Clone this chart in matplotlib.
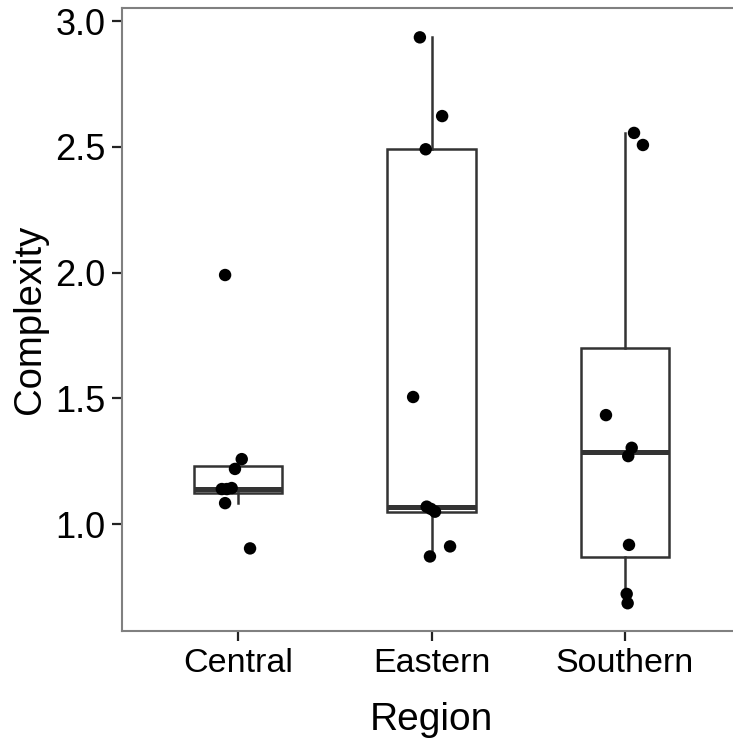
import matplotlib
matplotlib.use("Agg")
import matplotlib.pyplot as plt

plt.rcParams['font.family'] = ['Liberation Sans', 'DejaVu Sans']

# Categories and measured complexity per region
regions = ["Central", "Eastern", "Southern"]

central = [1.99, 1.258, 1.219, 1.139, 1.139, 1.143, 1.083, 0.903]
eastern = [2.935, 2.622, 2.490, 1.505, 1.069, 1.049, 1.060, 0.911, 0.871]
southern = [2.555, 2.507, 1.433, 1.303, 1.270, 0.917, 0.722, 0.685]

# Horizontal jitter applied to each observation (category units)
central_jitter = [-0.067, 0.019, -0.016, -0.084, -0.058, -0.033, -0.067, 0.062]
eastern_jitter = [-0.060, 0.055, -0.030, -0.095, -0.025, 0.018, -0.003, 0.096, -0.008]
southern_jitter = [0.047, 0.093, -0.098, 0.035, 0.017, 0.021, 0.009, 0.014]

yticks = [1.0, 1.5, 2.0, 2.5, 3.0]
ytick_labels = ["1.0", "1.5", "2.0", "2.5", "3.0"]

values = [central, eastern, southern]
jitters = [central_jitter, eastern_jitter, southern_jitter]

W, H = 733, 742
fig = plt.figure(figsize=(W / 100, H / 100), dpi=100)
left, right, top, bottom = 122, 741, 8, 631
ax = fig.add_axes([left / W, (H - bottom) / H, (right - left) / W, (bottom - top) / H])

box_color = "#333333"
positions = [1, 2, 3]
ax.boxplot(
    values, positions=positions, widths=0.455, whis=1.5, showfliers=False,
    showcaps=False, patch_artist=True,
    boxprops=dict(facecolor="white", edgecolor=box_color, linewidth=1.8),
    whiskerprops=dict(color=box_color, linewidth=1.8),
    medianprops=dict(color=box_color, linewidth=3.6, solid_capstyle="butt"),
    zorder=2,
)

for pos, vals, jit in zip(positions, values, jitters):
    xs = [pos + j for j in jit]
    ax.scatter(xs, vals, s=80, color="black", edgecolors="none", zorder=3)

ax.set_xlim(0.4, 3.6)
ax.set_ylim(0.5746, 3.0517)
ax.set_xticks(positions)
ax.set_xticklabels(regions)
ax.set_yticks(yticks)
ax.set_yticklabels(ytick_labels)

for sp in ax.spines.values():
    sp.set_color("#808080")
    sp.set_linewidth(1.5)

ax.tick_params(axis="both", which="major", direction="out", length=7, width=1.6,
               color="#222222", labelcolor="black", pad=5)
ax.tick_params(axis="x", labelsize=24.5)
ax.tick_params(axis="y", labelsize=26)

ax.set_xlabel("Region", fontsize=28, labelpad=17)
ax.set_ylabel("Complexity", fontsize=27.5, labelpad=5)

fig.savefig("out.png", dpi=100, facecolor="white")
